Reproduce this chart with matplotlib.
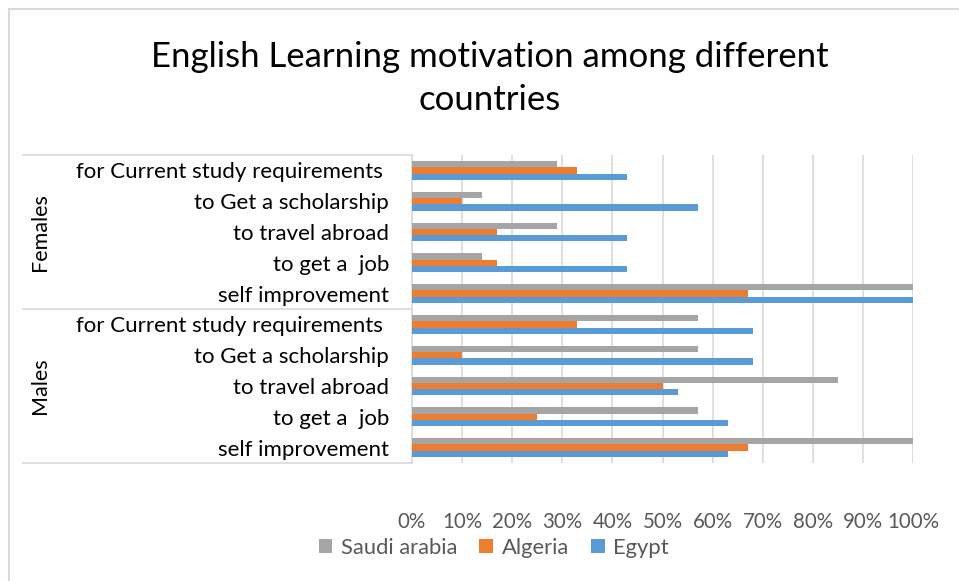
import matplotlib.pyplot as plt
import numpy as np
from matplotlib.patches import Rectangle
from matplotlib.transforms import blended_transform_factory

plt.rcParams['font.family'] = ['Lato', 'DejaVu Sans']

groups = ["Females", "Males"]
reasons = ["for Current study requirements ", "to Get a scholarship",
           "to travel abroad", "to get a  job", "self improvement"]
series = ["Saudi arabia", "Algeria", "Egypt"]
colors = ["#a5a5a5", "#ed7d31", "#5b9bd5"]

# values in %, order of reasons above, top to bottom
saudi_f = [29, 14, 29, 14, 100]
algeria_f = [33, 10, 17, 17, 67]
egypt_f = [43, 57, 43, 43, 100]
saudi_m = [57, 57, 85, 57, 100]
algeria_m = [33, 10, 50, 25, 67]
egypt_m = [68, 68, 53, 63, 63]

values = [saudi_f + saudi_m, algeria_f + algeria_m, egypt_f + egypt_m]

fig = plt.figure(figsize=(9.59, 5.81), dpi=100)
ax = fig.add_axes([412 / 959, 1 - 463 / 581, 501 / 959, 308 / 581])

n = len(reasons) * len(groups)
y = np.arange(n)
h = 0.205
for i, (vals, c, name) in enumerate(zip(values, colors, series)):
    ax.barh(y + (i - 1) * h, vals, height=h, color=c, label=name, zorder=3)

ax.set_xlim(0, 100)
ax.set_ylim(n - 0.5, -0.5)
ax.set_xticks(np.arange(0, 101, 10))
ax.set_xticklabels([f"{v}%" for v in range(0, 101, 10)], color="#595959", fontsize=14.8)
ax.set_yticks(y)
ax.set_yticklabels(reasons * len(groups), fontsize=16, color="#000000")
ax.tick_params(axis="both", length=0)
ax.tick_params(axis="x", pad=35)
ax.tick_params(axis="y", pad=16.5)
ax.grid(axis="x", color="#d9d9d9", linewidth=1.2, zorder=0)
for s in ["top", "right", "bottom"]:
    ax.spines[s].set_visible(False)
ax.spines["left"].set_color("#d9d9d9")
ax.spines["left"].set_linewidth(1.2)

# group separators and labels
tr = blended_transform_factory(ax.transAxes, ax.transData)
x0 = (23 - 412) / 501
for yy in [-0.5, 4.5, 9.5]:
    ax.plot([x0, 0], [yy, yy], transform=tr, color="#d9d9d9", lw=1.2, clip_on=False)
for k, g in enumerate(groups):
    ax.text((40 - 412) / 501, k * 5 + 2, g, transform=tr, rotation=90,
            ha="center", va="center", fontsize=15.5, color="#000000")

fig.text(490 / 959, 1 - 57 / 581, "English Learning motivation among different",
         ha="center", va="center", fontsize=25)
fig.text(490 / 959, 1 - 100 / 581, "countries",
         ha="center", va="center", fontsize=25)

fig.legend(loc="center", bbox_to_anchor=(494 / 959, 1 - 548 / 581), ncol=3,
           frameon=False, fontsize=15.8, labelcolor="#595959",
           handlelength=0.62, handleheight=0.62, handletextpad=0.4, columnspacing=1.0)

fig.patches.append(Rectangle((9 / 959, -0.1), 1.2, 1 - 9 / 581 + 0.1,
                             transform=fig.transFigure, fill=False,
                             edgecolor="#d9d9d9", linewidth=1.5))

fig.savefig("out.png", dpi=100)
